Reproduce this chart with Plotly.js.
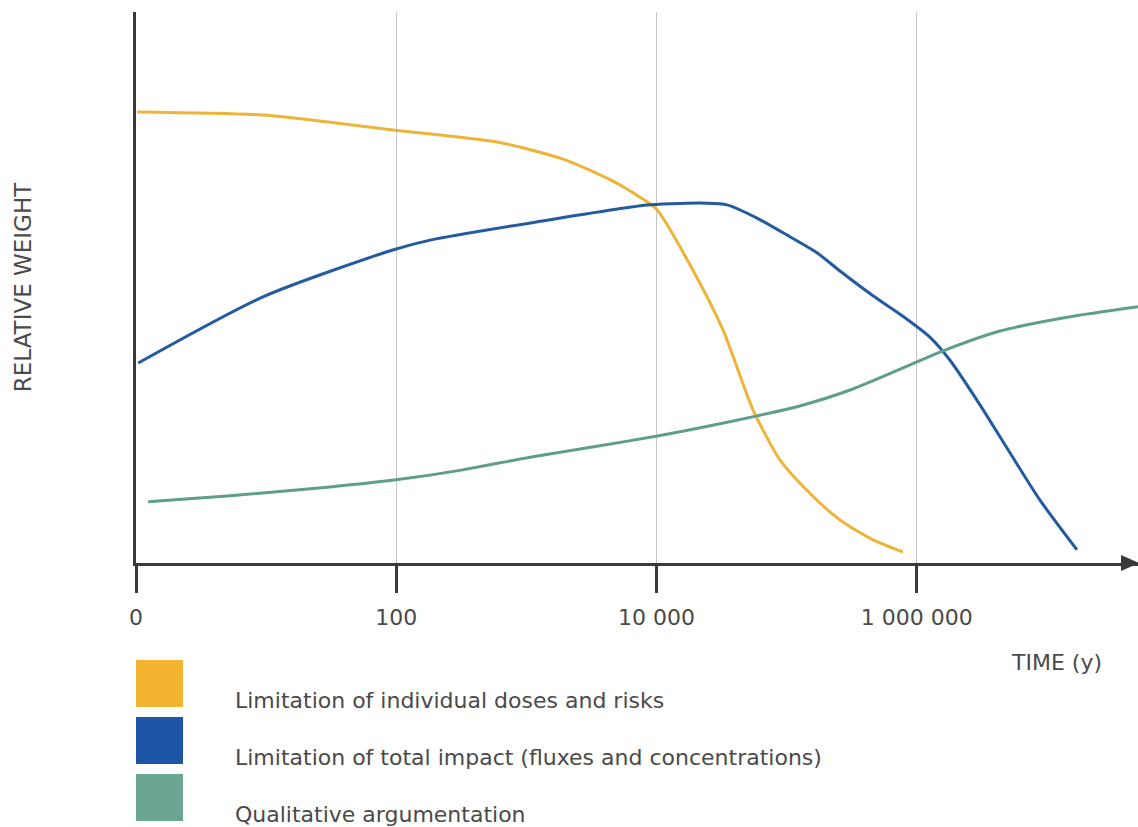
<!DOCTYPE html>
<html>
<head>
<meta charset="utf-8">
<script src="https://cdn.plot.ly/plotly-3.0.1.min.js"></script>
<style>html,body{margin:0;padding:0;background:#fff;}#chart{width:1138px;height:827px;}</style>
</head>
<body>
<div id="chart"></div>
<script>
// ---- data (time in years, relative weight 0-100) ----
const seriesNames = [
  "Limitation of individual doses and risks",
  "Limitation of total impact (fluxes and concentrations)",
  "Qualitative argumentation"
];
const doseTime = [1.02, 9.46, 31, 94, 594, 1910, 4630, 7460, 10090, 18100, 32400, 55100, 88900, 143000, 257000, 461000, 783000];
const doseWeight = [81.85, 81.3, 80.0, 78.6, 76.4, 73.3, 69.3, 66.4, 64.1, 54.1, 42.3, 27.8, 18.7, 13.2, 7.8, 4.2, 2.0];

const impactTime = [1.04, 9.46, 94, 182, 1066, 8910, 24400, 34800, 59200, 106000, 171000, 257000, 461000, 812000, 1260000, 1800000, 3060000, 5200000, 8850000, 17000000];
const impactWeight = [36.3, 48.3, 56.8, 58.6, 61.7, 65.0, 65.3, 65.0, 62.6, 59.2, 56.3, 53.0, 48.5, 44.5, 41.0, 36.8, 28.7, 20.0, 11.4, 2.4];

const qualTime = [1.24, 5.3, 31, 99.5, 326, 1066, 3490, 9910, 25800, 59200, 126000, 307000, 1004000, 1590000, 4360000, 14300000, 50100000];
const qualWeight = [11.1, 12.2, 13.8, 15.1, 16.9, 19.2, 21.2, 23.0, 24.9, 26.7, 28.5, 31.4, 36.5, 38.5, 42.1, 44.6, 46.5];

const tickValues = [1, 100, 10000, 1000000];
const tickLabels = ["0", "100", "10 000", "1 000 000"];

// ---- styling ----
const lineColors = ["#EDB43A", "#235AA0", "#5F9E8C"];
const swatchColors = ["#F2B431", "#1E55A5", "#6BA593"];
const W = 1138, H = 827;
const M = {l: 136, r: 0, t: 12, b: 264};
const plotW = W - M.l - M.r, plotH = H - M.t - M.b;
const px2x = p => (p - M.l) / plotW;
const px2y = p => (H - M.b - p) / plotH;
const FONT = "DejaVu Sans, Arial, sans-serif";
const TXT = "#4a4a4a";

const mk = (x, y, i) => ({
  x: x, y: y, type: "scatter", mode: "lines", name: seriesNames[i],
  line: {color: lineColors[i], width: 3, shape: "spline", smoothing: 0.7},
  hoverinfo: "skip", cliponaxis: false
});
const traces = [mk(doseTime, doseWeight, 0), mk(impactTime, impactWeight, 1), mk(qualTime, qualWeight, 2)];

const shapes = [];
// arrow head on x axis
shapes.push({
  type: "path", xref: "paper", yref: "paper",
  path: `M ${px2x(1121)} ${px2y(555)} L ${px2x(1139)} ${px2y(563)} L ${px2x(1121)} ${px2y(571)} Z`,
  fillcolor: "#3a3a3a", line: {width: 0}
});
// legend swatches
const swTop = [660, 717, 774];
const annotations = [];
swTop.forEach((t, i) => {
  shapes.push({
    type: "rect", xref: "paper", yref: "paper",
    x0: px2x(136), x1: px2x(183), y0: px2y(t), y1: px2y(t + 47),
    fillcolor: swatchColors[i], line: {width: 0}
  });
  annotations.push({
    xref: "paper", yref: "paper", x: px2x(233), y: px2y(t + 40),
    xanchor: "left", yanchor: "middle", showarrow: false,
    text: seriesNames[i], font: {family: FONT, size: 22, color: TXT}
  });
});
annotations.push({
  xref: "paper", yref: "paper", x: px2x(1104), y: px2y(662),
  xanchor: "right", yanchor: "middle", showarrow: false,
  text: "TIME (y)", font: {family: FONT, size: 22, color: TXT}
});

const layout = {
  width: W, height: H, margin: M,
  paper_bgcolor: "#fff", plot_bgcolor: "#fff",
  showlegend: false,
  xaxis: {
    type: "log", range: [0, 7.7],
    showline: true, linewidth: 3, linecolor: "#3a3a3a",
    showgrid: true, gridcolor: "#c4c4c4", gridwidth: 1,
    zeroline: false,
    ticks: "outside", ticklen: 27, tickwidth: 3, tickcolor: "#3a3a3a",
    tickmode: "array", tickvals: tickValues, ticktext: tickLabels,
    tickfont: {family: FONT, size: 22, color: TXT},
    ticklabelstandoff: 6,
    fixedrange: true
  },
  yaxis: {
    range: [0, 100],
    showline: true, linewidth: 3, linecolor: "#3a3a3a",
    showgrid: false, zeroline: false, showticklabels: false, ticks: "",
    title: {text: "RELATIVE WEIGHT", font: {family: FONT, size: 23, color: TXT}, standoff: 95},
    automargin: false, fixedrange: true
  },
  shapes: shapes,
  annotations: annotations
};

Plotly.newPlot("chart", traces, layout, {displayModeBar: false, staticPlot: true});
</script>
</body>
</html>
